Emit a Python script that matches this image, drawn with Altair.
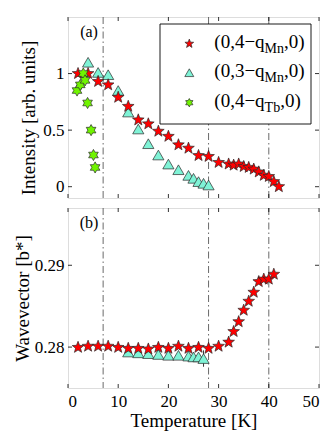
import math
import altair as alt
import pandas as pd

# ---------------- data ----------------
# panel (a): intensity vs temperature
red_T_a = [2, 4, 6, 8, 10, 12, 14, 16, 18, 20, 22, 24, 26, 28, 30, 32, 33, 34, 35, 36, 37, 38, 39, 40, 41, 42]
red_I_a = [1.00, 1.00, 0.93, 0.90, 0.79, 0.71, 0.59, 0.555, 0.49, 0.445, 0.37, 0.34, 0.275, 0.267,
           0.214, 0.20, 0.19, 0.20, 0.178, 0.17, 0.155, 0.13, 0.10, 0.09, 0.045, 0.0]
cyan_T_a = [4, 6, 8, 10, 12, 14, 16, 18, 20, 22, 24, 25, 26, 27, 28]
cyan_I_a = [1.10, 1.01, 0.99, 0.85, 0.66, 0.51, 0.38, 0.28, 0.20, 0.15, 0.10, 0.074, 0.045, 0.03, 0.015]
green_T_a = [1.8, 2.45, 3.05, 3.4, 3.9, 4.6, 5.07, 5.4]
green_I_a = [0.85, 0.90, 1.00, 0.94, 0.74, 0.50, 0.28, 0.17]

# panel (b): wavevector vs temperature
red_T_b = [2, 4, 6, 8, 10, 12, 14, 16, 18, 20, 22, 24, 26, 28, 30, 32, 33, 34, 35, 36, 37, 38, 39, 40, 41]
red_q_b = [0.27996, 0.2801, 0.2801, 0.2801, 0.27996, 0.27984, 0.27984, 0.27976, 0.27996, 0.27984,
           0.2801, 0.27984, 0.27996, 0.27984, 0.2801, 0.2806, 0.2819, 0.2831, 0.2845, 0.2856,
           0.2867, 0.2880, 0.2883, 0.2883, 0.2889]
cyan_T_b = [12, 14, 16, 18, 20, 22, 24, 25, 26, 27]
cyan_q_b = [0.2794, 0.2793, 0.2792, 0.2791, 0.2790, 0.2790, 0.2789, 0.2788, 0.2788, 0.2786]
err_T_b = [27]
err_lo_b = [0.2776]
err_hi_b = [0.2796]

transitions = [7, 28, 40]
x_ticks = [0, 10, 20, 30, 40, 50]
int_ticks = [0, 0.5, 1]
q_ticks = [0.28, 0.29]

legend_main = ["(0,4\u2212q", "(0,3\u2212q", "(0,4\u2212q"]
legend_sub = ["Mn", "Mn", "Tb"]
legend_tail = [",0)", ",0)", ",0)"]

# ---------------- style ----------------
FONT = "Liberation Serif"
W = 251
H_A = 181
H_B = 180
RED = "#ff0000"
CYAN = "#7ff3d6"
GREEN = "#70f400"
EDGE = "#2a2a2a"


def star_path(n, r_in):
    pts = []
    for k in range(2 * n):
        ang = -math.pi / 2 + k * math.pi / n
        r = 1.0 if k % 2 == 0 else r_in
        pts.append(f"{r * math.cos(ang):.4f},{r * math.sin(ang):.4f}")
    return "M" + " L".join(pts) + " Z"


PENTA = star_path(5, 0.42)
HEXA = star_path(6, 0.577)

xscale = alt.Scale(domain=[0, 50], nice=False, zero=False)
yscale_a = alt.Scale(domain=[-0.1, 1.5], nice=False, zero=False)
yscale_b = alt.Scale(domain=[0.275, 0.297], nice=False, zero=False)

x_axis_b = alt.Axis(values=x_ticks, title="Temperature [K]", ticks=False, domain=False, grid=False,
                    labelFontSize=17, titleFontSize=19, labelPadding=5, titlePadding=2,
                    labelFont=FONT, titleFont=FONT, titleFontWeight="normal", labelColor="black",
                    titleColor="black")
y_axis_a = alt.Axis(values=int_ticks, title="Intensity [arb. units]", ticks=False, domain=False,
                    grid=False, labelFontSize=17, titleFontSize=19, labelPadding=4, titlePadding=4,
                    titleY=H_A / 2 + 10,
                    labelExpr="'' + datum.value", labelFont=FONT, titleFont=FONT,
                    titleFontWeight="normal", labelColor="black", titleColor="black")
y_axis_b = alt.Axis(values=q_ticks, title="Wavevector [b*]", ticks=False, domain=False, grid=False,
                    labelFontSize=17, titleFontSize=19, labelPadding=4, titlePadding=2,
                    labelExpr="'' + datum.value", labelFont=FONT, titleFont=FONT,
                    titleFontWeight="normal", labelColor="black", titleColor="black")


def xenc(field, axis):
    return alt.X(f"{field}:Q", scale=xscale, axis=axis)


def panel(yscale, yaxis, xaxis, H, series, ytick_vals, label, extra=None, legend=False):
    layers = []
    tdf = pd.DataFrame({"T": transitions})
    layers.append(
        alt.Chart(tdf).mark_rule(color="#444444", strokeWidth=0.8, strokeDash=[7, 3, 1.5, 3]).encode(
            x=xenc("T", xaxis), y=alt.value(0), y2=alt.value(H))
    )
    if extra is not None:
        layers.append(extra)
    for df, yfield, shape, size, color in series:
        layers.append(
            alt.Chart(df).mark_point(shape=shape, size=size, filled=True, fill=color, stroke=EDGE,
                                     strokeWidth=0.7, opacity=1).encode(
                x=xenc("T", xaxis), y=alt.Y(f"{yfield}:Q", scale=yscale, axis=yaxis))
        )
    # inward ticks
    xt = pd.DataFrame({"T": x_ticks})
    for y0, y1 in [(H, H - 4), (0, 4)]:
        layers.append(alt.Chart(xt).mark_rule(color="black", strokeWidth=0.8).encode(
            x=xenc("T", xaxis), y=alt.value(y0), y2=alt.value(y1)))
    yt = pd.DataFrame({"v": ytick_vals})
    for x0, x1 in [(0, 4), (W, W - 4)]:
        layers.append(alt.Chart(yt).mark_rule(color="black", strokeWidth=0.8).encode(
            y=alt.Y("v:Q", scale=yscale, axis=yaxis), x=alt.value(x0), x2=alt.value(x1)))
    if legend:
        box = alt.Chart(pd.DataFrame({"k": [0]})).mark_rect(fill="white", stroke="black", strokeWidth=0.9).encode(
            x=alt.value(92), x2=alt.value(243), y=alt.value(7), y2=alt.value(107))
        layers.append(box)
        shapes = [(PENTA, 85, RED), ("triangle-up", 80, CYAN), (HEXA, 70, GREEN)]
        row_y = [26.7, 55.7, 85.7]
        fs_main, fs_sub = 19, 14
        w_main = 2.647 * fs_main
        for i in range(3):
            shp, sz, col = shapes[i]
            rd = pd.DataFrame({"m": [legend_main[i]], "s": [legend_sub[i]], "t": [legend_tail[i]]})
            layers.append(alt.Chart(rd).mark_point(shape=shp, size=sz, filled=True, fill=col, stroke=EDGE,
                                                   strokeWidth=0.7, opacity=1).encode(
                x=alt.value(121.3), y=alt.value(row_y[i])))
            layers.append(alt.Chart(rd).mark_text(align="left", baseline="middle", font=FONT,
                                                  fontSize=fs_main, color="black", dy=-2).encode(
                x=alt.value(146.3), y=alt.value(row_y[i]), text="m:N"))
            layers.append(alt.Chart(rd).mark_text(align="left", baseline="middle", font=FONT,
                                                  fontSize=fs_sub, color="black", dx=w_main, dy=5).encode(
                x=alt.value(146.3), y=alt.value(row_y[i]), text="s:N"))
            w_sub = (1.389 if legend_sub[i] == "Mn" else 1.111) * fs_sub
            layers.append(alt.Chart(rd).mark_text(align="left", baseline="middle", font=FONT,
                                                  fontSize=fs_main, color="black", dx=w_main + w_sub,
                                                  dy=-2).encode(
                x=alt.value(146.3), y=alt.value(row_y[i]), text="t:N"))
    lab = pd.DataFrame({"l": [label]})
    layers.append(alt.Chart(lab).mark_text(font=FONT, fontSize=16, color="black", align="center",
                                           baseline="middle").encode(
        x=alt.value(21), y=alt.value(15), text="l:N"))
    return alt.layer(*layers).properties(width=W, height=H)


red_a = pd.DataFrame({"T": red_T_a, "I": red_I_a})
cyan_a = pd.DataFrame({"T": cyan_T_a, "I": cyan_I_a})
green_a = pd.DataFrame({"T": green_T_a, "I": green_I_a})
red_b = pd.DataFrame({"T": red_T_b, "q": red_q_b})
cyan_b = pd.DataFrame({"T": cyan_T_b, "q": cyan_q_b})
err_b = pd.DataFrame({"T": err_T_b, "lo": err_lo_b, "hi": err_hi_b})

top = panel(yscale_a, y_axis_a, None, H_A,
            [(cyan_a, "I", "triangle-up", 125, CYAN),
             (red_a, "I", PENTA, 150, RED),
             (green_a, "I", HEXA, 125, GREEN)],
            int_ticks, "(a)", legend=True)

err_layer = alt.Chart(err_b).mark_rule(color="black", strokeWidth=0.8).encode(
    x=xenc("T", x_axis_b), y=alt.Y("lo:Q", scale=yscale_b, axis=y_axis_b), y2="hi:Q")

bottom = panel(yscale_b, y_axis_b, x_axis_b, H_B,
               [(cyan_b, "q", "triangle-up", 125, CYAN),
                (red_b, "q", PENTA, 150, RED)],
               q_ticks, "(b)", extra=err_layer)

chart = alt.vconcat(top, bottom, spacing=8).properties(
    padding={"left": 4, "top": 8, "right": 2, "bottom": 0}
).configure_view(stroke="black", strokeWidth=1).configure(font=FONT)

chart.save("out.html", embed_options={"renderer": "svg", "actions": False})
